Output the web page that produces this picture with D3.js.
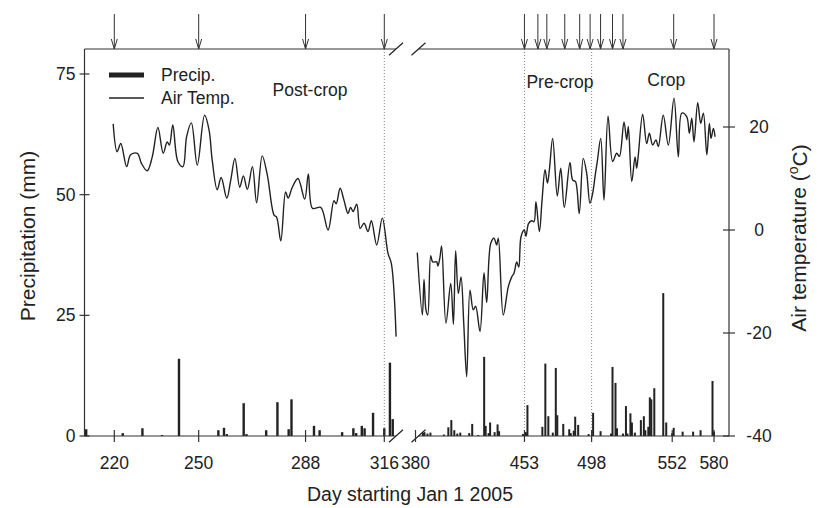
<!DOCTYPE html>
<html><head><meta charset="utf-8">
<script src="https://cdn.jsdelivr.net/npm/d3@7"></script>
<style>body{margin:0;background:#fff}svg{display:block;font-family:"Liberation Sans",Arial,sans-serif}</style>
</head><body><svg id="c" width="820" height="508"></svg>
<script>
// ---------- data ----------
const tempSeg1 = [[219.6,20.6],[221,15.2],[222.3,16.8],[224.4,12.3],[225.8,14.6],[228.2,14.9],[229.6,13],[231.7,11.5],[233.5,14.2],[235.5,19.9],[237.4,14.9],[238.8,17.1],[239.6,16.5],[240.8,20.4],[242.6,13.3],[244.4,12.3],[245.7,18.1],[247.4,20.8],[249.5,12.6],[252.1,22.3],[253.7,19.4],[254.8,13.6],[256.6,7.8],[258,10.2],[260,6.2],[261.4,9.7],[262.9,13.9],[264.6,8.3],[265.9,10.5],[267.3,7.9],[269.1,12.3],[270.6,5.3],[272.6,14.4],[274.4,10.7],[276.8,2.9],[277.7,2.5],[279.2,-2.1],[280.9,7.4],[281.8,6.2],[283.3,8.3],[285.3,10],[287.7,6],[289,10.9],[290.5,4.2],[293.4,4.4],[296,0],[298.1,5.7],[298.9,5.1],[300.3,8.1],[301.7,5.7],[303.1,3.2],[304,4.4],[304.9,3.6],[306.2,5],[307.4,0.3],[308.8,1.3],[310.2,-0.3],[311.4,1.8],[313.3,-2.9],[315.3,2.3],[317.3,-4.5],[318.5,-6.5],[320.2,-20.7]];
const tempSeg2 = [[381.2,-4.4],[384.6,-16.5],[385.7,-9.6],[387,-15.5],[388.2,-16.5],[390.2,-5],[391.5,-6.2],[394.2,-6.2],[395,-7],[396.4,-5.3],[397.5,-3.1],[400.4,-18.1],[403.6,-10.4],[405.4,-18.3],[406.9,-4],[408.7,-12.3],[410.5,-9.1],[412.3,-18],[414.3,-28.5],[416.5,-11.7],[418.7,-15.5],[420.3,-14.8],[423.2,-19.7],[425.9,-8.3],[427.7,-14.1],[430.4,-2.6],[432.6,-1.6],[434.4,-2.9],[435.5,-1.6],[438.8,-16.5],[442.2,-11],[444.5,-9.1],[446,-8.4],[447.8,-6.2],[449.2,-7.2],[450.7,-1.3],[452.9,0],[454,-1.2],[455.8,1.3],[457.9,1.8],[459.4,1.6],[460.7,5.5],[463,-0.3],[464.8,5.8],[466.8,11.7],[468.4,9.1],[469.7,11.7],[471.9,17.8],[475,6.6],[477.3,12],[479.7,4.4],[483.5,13.1],[485.3,9.7],[487.2,9.4],[489.7,3.2],[492.4,13.9],[494.7,11],[496.9,5.2],[498.7,7.1],[500.3,10.4],[501.8,13.3],[504.1,17.8],[506.3,5.8],[509,22.1],[512.1,13.3],[514.8,14.9],[516.6,14.3],[519.7,21],[521.5,17.5],[522.6,20.1],[524.9,9.4],[527.1,14.2],[528.2,12],[529.3,14.6],[532.2,22.5],[534.9,16.8],[536.7,18.8],[538.9,16.5],[541.1,17.5],[542.7,16.2],[546,22.3],[549.4,16.5],[553.2,25.6],[556.1,14.2],[558.4,22.7],[561.7,22],[563.5,18.8],[565.1,21.7],[566.6,17.1],[569.1,24.7],[571.1,20.7],[572.9,22.7],[575.2,14.6],[576.9,20.7],[578,17.8],[579.6,19.7],[580.7,18.1]];
const precipSeg1 = [[210,1.4],[223,0.6],[230,1.6],[237,0.2],[243,16],[257,1.2],[259,1.7],[260,0.4],[266,6.8],[267,0.4],[274,1.2],[278,7],[282,1.4],[283,7.6],[291,2.1],[293,1.2],[301,0.8],[305,1.6],[306,0.6],[308,2.1],[309,1.6],[312,4.8],[316,1.6],[318,15.2],[319,3.5]];
const precipSeg2 = [[385,0.6],[386,0.8],[388,0.5],[390,0.7],[399,0.3],[402,1.8],[404,3.3],[406,1.2],[408,0.5],[410,0.7],[416,0.6],[418,2.5],[422,0.2],[426,16.4],[427,2.1],[429,0.6],[430,2.8],[433,0.8],[435,2.4],[436,1],[452,0.4],[454,0.8],[455,6.4],[465,1.9],[467,15],[469,4.1],[472,0.7],[474,14.1],[475,4.3],[479,2.5],[483,1.4],[484,0.6],[486,1.1],[487,4],[489,2.3],[496,0.4],[499,4.8],[504,1],[511,0.5],[512,14.3],[514,11],[515,1.6],[519,0.5],[521,6.2],[522,0.5],[524,4.7],[525,2.8],[527,0.7],[531,3.3],[533,4.1],[534,1.2],[536,1.9],[537,8],[538,7.6],[540,9.9],[546,29.6],[548,2.8],[552,0.6],[553,1.7],[559,0.9],[566,0.9],[571,1.2],[579,11.4],[580,0.9]];
const xTicksSeg1 = [220, 250, 288, 316];
const xTicksSeg2 = [380, 453, 498, 552, 580];
const precipTicks = [0, 25, 50, 75];
const tempTicks = [-40, -20, 0, 20];
const arrowDaysSeg1 = [220, 250, 288, 316];
const arrowDaysSeg2 = [453, 462, 468, 480, 490, 497, 504, 512, 519, 553, 580];
const phaseLineDays = [316, 453, 498];
const phaseLabels = [{text:"Post-crop", day:289.6, seg:1, y:90}, {text:"Pre-crop", day:476.8, seg:2, y:82}, {text:"Crop", day:548, seg:2, y:80}];

// ---------- layout ----------
const L = 84.5, R = 729, T = 49, B = 436;
const BR1 = 396, BR2 = 418.5; // break positions
const ink = "#222", axisCol = "#333";
const svg = d3.select("#c");

const x1 = d3.scaleLinear().domain([220, 316]).range([114.3, 384.3]);
const x2 = d3.scaleLinear().domain([380, 580]).range([415.5, 714]);
const yP = d3.scaleLinear().domain([0, 75]).range([B, 74]);
const yT = d3.scaleLinear().domain([-40, 20]).range([B, 127]);

const defs = svg.append("defs");
defs.append("clipPath").attr("id","c1").append("rect").attr("x",L).attr("y",T).attr("width",BR1-L).attr("height",B-T);
defs.append("clipPath").attr("id","c2").append("rect").attr("x",BR2).attr("y",T).attr("width",R-BR2).attr("height",B-T);

// dotted phase lines
phaseLineDays.forEach(d => {
  const x = d < 350 ? x1(d) : x2(d);
  svg.append("line").attr("x1",x).attr("x2",x).attr("y1",T).attr("y2",B)
    .attr("stroke","#888").attr("stroke-width",1).attr("stroke-dasharray","1,2");
});

// bars
function bars(data, xs, clip, w) {
  svg.append("g").attr("clip-path", `url(#${clip})`).selectAll("rect").data(data).join("rect")
    .attr("x", d => xs(d[0]) - w/2).attr("width", w)
    .attr("y", d => yP(d[1])).attr("height", d => B - yP(d[1]))
    .attr("fill", ink);
}
bars(precipSeg1, x1, "c1", 2.4);
bars(precipSeg2, x2, "c2", 2.0);

// temperature lines
function tline(data, xs) {
  svg.append("path").datum(data)
    .attr("d", d3.line().curve(d3.curveCatmullRom.alpha(0.5)).x(d => xs(d[0])).y(d => yT(d[1])))
    .attr("fill","none").attr("stroke",ink).attr("stroke-width",1.4).attr("stroke-linejoin","round");
}
tline(tempSeg1, x1);
tline(tempSeg2, x2);

// frame
const fr = svg.append("g").attr("stroke", axisCol).attr("stroke-width", 1.2).attr("fill","none");
fr.append("line").attr("x1",L).attr("x2",L).attr("y1",T).attr("y2",B);
fr.append("line").attr("x1",R).attr("x2",R).attr("y1",T).attr("y2",B);
[T, B].forEach(y => {
  fr.append("line").attr("x1",L).attr("x2",BR1).attr("y1",y).attr("y2",y);
  fr.append("line").attr("x1",BR2).attr("x2",R).attr("y1",y).attr("y2",y);
  [BR1, BR2].forEach(cx => fr.append("line").attr("x1",cx-7).attr("x2",cx+7).attr("y1",y+6.3).attr("y2",y-6.3).attr("stroke","#222"));
});

const fs = 17.5;
precipTicks.forEach(v => {
  const y = yP(v);
  fr.append("line").attr("x1",L-5).attr("x2",L+5).attr("y1",y).attr("y2",y);
  svg.append("text").attr("x",L-9).attr("y",y).attr("dy","0.35em").attr("text-anchor","end")
    .attr("font-size",fs).attr("fill",ink).text(v);
});
tempTicks.forEach(v => {
  const y = yT(v);
  fr.append("line").attr("x1",R-6).attr("x2",R+6).attr("y1",y).attr("y2",y);
  svg.append("text").attr("x",R+30).attr("y",y).attr("dy","0.35em").attr("text-anchor","middle")
    .attr("font-size",fs).attr("fill",ink).text(v);
});
function xt(ticks, xs) {
  ticks.forEach(v => {
    const x = xs(v);
    fr.append("line").attr("x1",x).attr("x2",x).attr("y1",B-6).attr("y2",B+6);
    svg.append("text").attr("x",x).attr("y",B+27).attr("dy","0.35em").attr("text-anchor","middle")
      .attr("font-size",fs).attr("fill",ink).text(v);
  });
}
xt(xTicksSeg1, x1);
xt(xTicksSeg2, x2);

function arrows(days, xs) {
  days.forEach(d => {
    const x = xs(d);
    const g = svg.append("g").attr("stroke","#333").attr("stroke-width",1).attr("fill","none");
    g.append("line").attr("x1",x).attr("x2",x).attr("y1",14).attr("y2",T);
    g.append("path").attr("d",`M${x-3},${T-10}L${x},${T}L${x+3},${T-10}`);
  });
}
arrows(arrowDaysSeg1, x1);
arrows(arrowDaysSeg2, x2);

phaseLabels.forEach(p => {
  const xs = p.seg === 1 ? x1 : x2;
  svg.append("text").attr("x", xs(p.day)).attr("y", p.y).attr("dy","0.35em").attr("text-anchor","middle")
    .attr("font-size",fs).attr("fill",ink).text(p.text);
});

// legend
svg.append("line").attr("x1",109).attr("x2",144).attr("y1",75).attr("y2",75).attr("stroke",ink).attr("stroke-width",5);
svg.append("line").attr("x1",109).attr("x2",144).attr("y1",98).attr("y2",98).attr("stroke",ink).attr("stroke-width",1.3);
svg.append("text").attr("x",161).attr("y",75).attr("dy","0.35em").attr("font-size",fs).attr("fill",ink).text("Precip.");
svg.append("text").attr("x",161).attr("y",98).attr("dy","0.35em").attr("font-size",fs).attr("fill",ink).text("Air Temp.");

// axis titles
svg.append("text").attr("transform","translate(28,236) rotate(-90)").attr("text-anchor","middle").attr("dy","0.35em")
  .attr("font-size",21).attr("fill",ink).text("Precipitation (mm)");
const rt = svg.append("text").attr("transform","translate(799,238) rotate(-90)").attr("text-anchor","middle").attr("dy","0.35em")
  .attr("font-size",21).attr("fill",ink);
rt.append("tspan").text("Air temperature (");
rt.append("tspan").attr("font-size",14).attr("dy","-0.6em").text("o");
rt.append("tspan").attr("dy","0.45em").text("C)");
svg.append("text").attr("x",410).attr("y",494).attr("dy","0.35em").attr("text-anchor","middle")
  .attr("font-size",19.5).attr("fill",ink).text("Day starting Jan 1 2005");
</script></body></html>
